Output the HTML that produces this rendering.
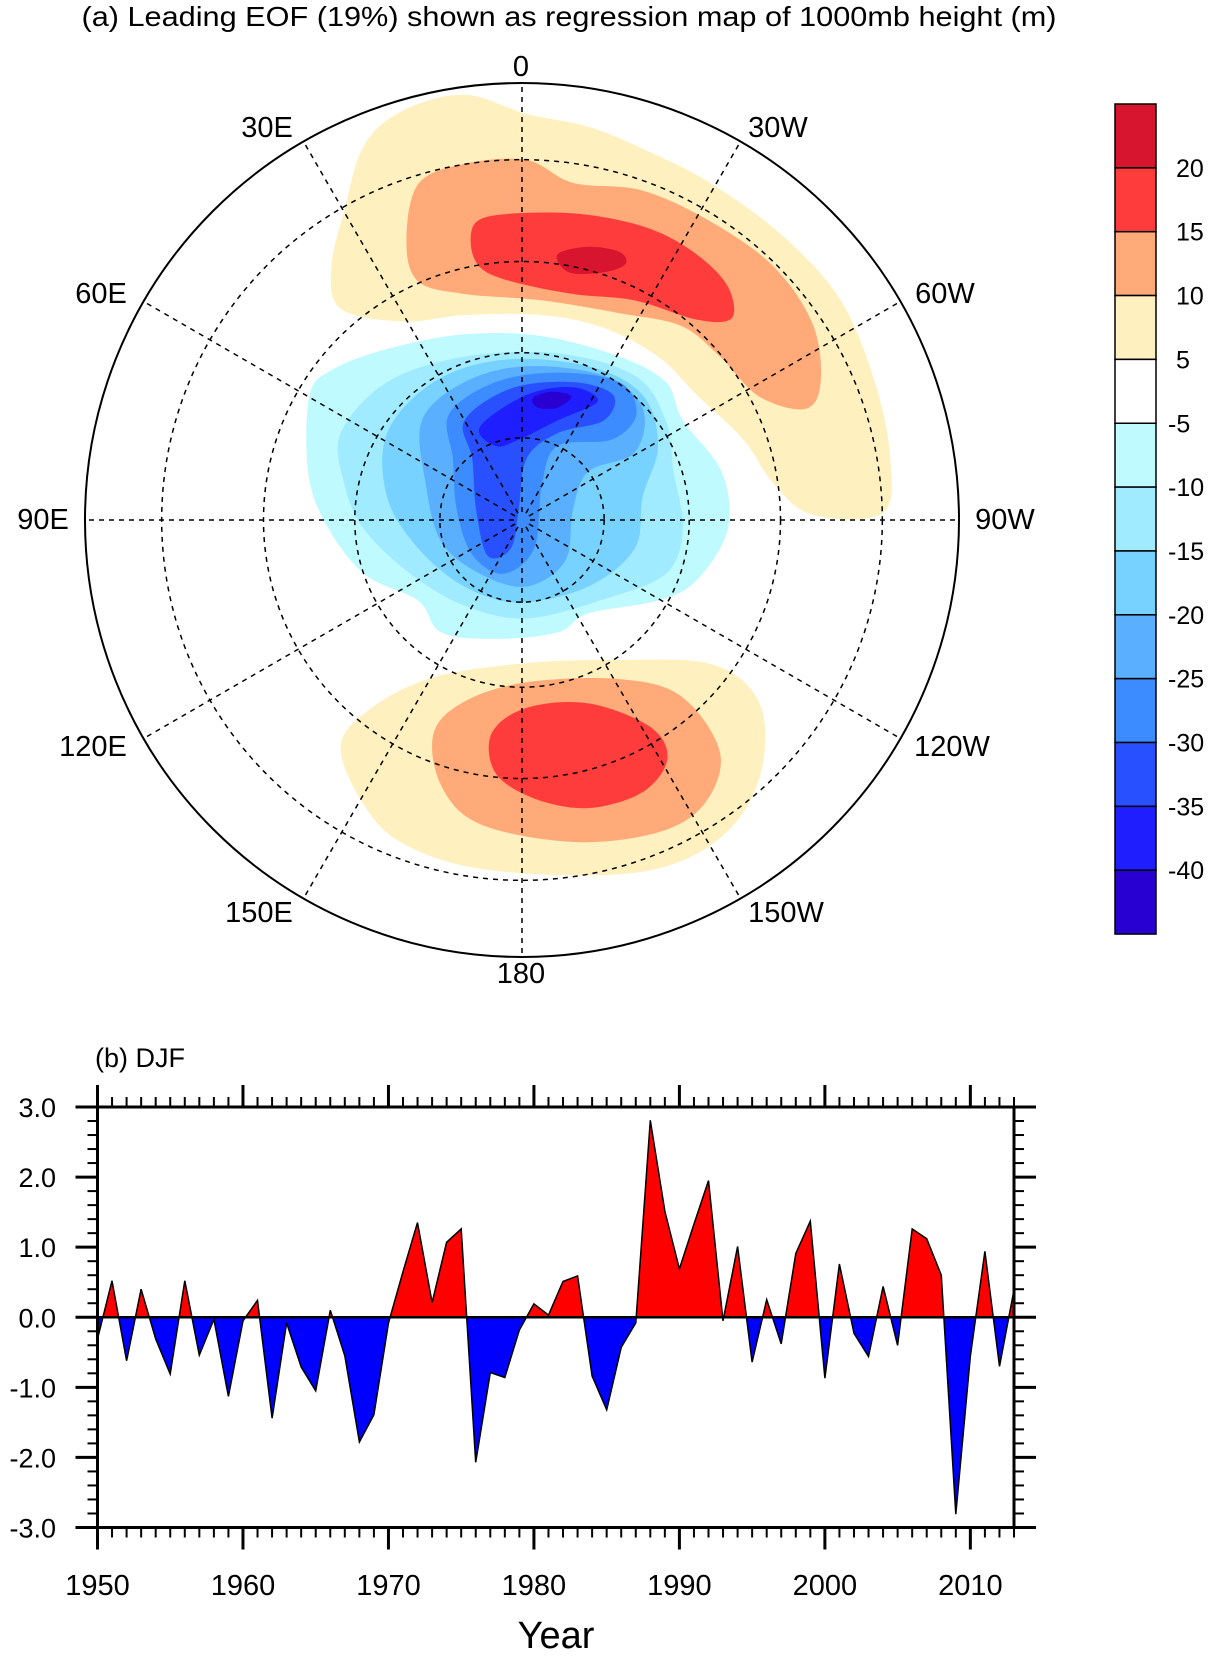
<!DOCTYPE html>
<html><head><meta charset="utf-8"><style>
html,body{margin:0;padding:0;background:#fff;}
svg{display:block;font-family:"Liberation Sans",sans-serif;}
</style></head><body>
<svg id="fig" width="1214" height="1659" viewBox="0 0 1214 1659" xmlns="http://www.w3.org/2000/svg">
<defs>
<clipPath id="circ"><circle cx="522" cy="520" r="437"/></clipPath>
</defs>
<text x="569" y="26" font-size="28" text-anchor="middle" textLength="975" lengthAdjust="spacingAndGlyphs">(a) Leading EOF (19%) shown as regression map of 1000mb height (m)</text>
<g id="map">
<g clip-path="url(#circ)"><g id="blobs" transform="matrix(0.7742 0 0 0.6386 0 -1)"></g></g>
<g id="grid" fill="none" stroke="#000" stroke-width="1.5" stroke-dasharray="5,5"></g>
<circle cx="522" cy="520" r="437" fill="none" stroke="#000" stroke-width="2"/>
<g id="lonlabels" font-size="29" text-anchor="middle"></g>
</g>
<g id="cbar"></g>
<g id="ts">
<text x="95" y="1067" font-size="27">(b) DJF</text>
<text x="556" y="1648" font-size="38" text-anchor="middle">Year</text>
</g>
</svg>
<script>
const years = [];
for (let y = 1950; y <= 2013; y++) years.push(y);
const pcValues = [-0.31,0.52,-0.62,0.40,-0.31,-0.81,0.52,-0.54,-0.03,-1.13,
-0.05,0.24,-1.44,-0.08,-0.71,-1.05,0.10,-0.55,-1.78,-1.39,
-0.08,0.65,1.35,0.21,1.07,1.26,-2.07,-0.79,-0.86,-0.18,
0.19,0.03,0.51,0.59,-0.84,-1.32,-0.43,-0.08,2.81,1.51,
0.69,1.33,1.95,-0.05,1.01,-0.64,0.25,-0.38,0.91,1.37,
-0.87,0.76,-0.23,-0.56,0.44,-0.40,1.26,1.12,0.60,-2.81,
-0.55,0.94,-0.70,0.39];
const yTicks = [-3,-2,-1,0,1,2,3];
const yTickLabels = ["-3.0","-2.0","-1.0","0.0","1.0","2.0","3.0"];
const xTicks = [1950,1960,1970,1980,1990,2000,2010];
const cbarLabels = ["20","15","10","5","-5","-10","-15","-20","-25","-30","-35","-40"];
const cbarColors = ["#D7152F","#FF3C3C","#FFAA78","#FFF0C0","#FFFFFF","#BEFAFF","#A0EBFF","#78D2FF","#5AAFFF","#3C8CFF","#2850FF","#1E1EFF","#2800D2"];

const NS = "http://www.w3.org/2000/svg";
function mk(tag, attrs, parent) {
  const e = document.createElementNS(NS, tag);
  for (const k in attrs) e.setAttribute(k, attrs[k]);
  parent.appendChild(e);
  return e;
}
function smooth(pts) {
  const n = pts.length; let d = "M" + pts[0][0] + "," + pts[0][1];
  for (let i = 0; i < n; i++) {
    const p0 = pts[(i - 1 + n) % n], p1 = pts[i], p2 = pts[(i + 1) % n], p3 = pts[(i + 2) % n];
    const c1 = [p1[0] + (p2[0] - p0[0]) / 6, p1[1] + (p2[1] - p0[1]) / 6];
    const c2 = [p2[0] - (p3[0] - p1[0]) / 6, p2[1] - (p3[1] - p1[1]) / 6];
    d += "C" + c1.join(",") + " " + c2.join(",") + " " + p2.join(",");
  }
  return d + "Z";
}
const blobs = document.getElementById("blobs");
const shapes = [
 ["pos-top-5", "#FFF0C0", [[470,230],[520,175],[600,150],[680,180],[760,200],[840,240],[920,290],[1010,370],[1085,470],[1130,600],[1150,720],[1140,805],[1050,808],[1000,760],[960,690],[900,620],[850,560],[780,515],[700,495],[600,495],[520,505],[440,485],[428,420],[445,330]]],
 ["pos-top-10", "#FFAA78", [[540,290],[600,258],[680,252],[740,288],[830,300],[920,350],[1000,420],[1050,510],[1060,600],[1040,642],[980,622],[930,560],[880,512],[800,492],[700,472],[600,462],[540,442],[525,380]]],
 ["pos-top-15", "#FF3C3C", [[620,345],[680,335],[760,338],[840,360],[900,400],[940,450],[945,500],[900,502],[820,472],[740,462],[660,442],[620,420],[608,380]]],
 ["pos-top-20", "#D7152F", [[720,400],[760,388],[800,396],[808,415],[780,428],[735,428]]],
 ["pos-bot-5", "#FFF0C0", [[440,1170],[480,1110],[560,1062],[680,1040],[800,1035],[920,1042],[980,1100],[985,1200],[950,1290],[880,1350],[780,1372],[620,1362],[520,1322],[470,1262]]],
 ["pos-bot-10", "#FFAA78", [[560,1150],[600,1100],[680,1070],[800,1065],[880,1092],[930,1180],[910,1260],[850,1305],[740,1320],[620,1292],[570,1232]]],
 ["pos-bot-15", "#FF3C3C", [[635,1150],[680,1110],[760,1103],[840,1140],[862,1190],[830,1242],[760,1267],[690,1252],[640,1212]]],
 ["neg-5", "#BEFAFF", [[400,620],[430,580],[500,548],[600,525],[700,528],[800,560],[860,600],[882,660],[932,740],[940,830],[900,910],[850,942],[760,962],[720,992],[640,1002],[570,992],[540,942],[470,900],[420,820],[398,740]]],
 ["neg-10", "#A0EBFF", [[440,680],[500,600],[600,560],[720,555],[820,590],[860,660],[870,740],[882,830],[860,900],[780,940],[680,970],[600,950],[530,900],[470,830],[445,760]]],
 ["neg-15", "#78D2FF", [[500,680],[560,600],[650,565],[760,575],[830,620],[850,700],[830,780],[820,860],[760,920],[670,945],[600,920],[540,860],[500,780]]],
 ["neg-20", "#5AAFFF", [[545,660],[600,600],[680,575],[780,590],[830,640],[820,710],[760,740],[740,800],[730,880],[680,920],[620,900],[570,850],[550,760]]],
 ["neg-25", "#3C8CFF", [[580,650],[640,600],[720,585],[800,600],[822,650],[790,690],[720,700],[700,760],[690,860],[650,900],[610,870],[590,800],[585,720]]],
 ["neg-30", "#2850FF", [[600,660],[660,610],[740,600],[792,620],[780,660],[720,680],[680,720],[670,800],[660,860],[630,872],[615,800],[610,720]]],
 ["neg-35", "#1E1EFF", [[620,670],[680,620],[740,608],[772,630],[720,660],[670,690],[640,700]]],
 ["neg-40", "#2800D2", [[688,625],[712,615],[738,622],[720,640],[695,640]]]
];
shapes.forEach(s => {
  const p = mk("path", {d: smooth(s[2]), fill: s[1]}, blobs);
  
  
});
const cx = 522, cy = 520, R = 437;
const grid = document.getElementById("grid");
const scaleR = R / Math.tan((90 - 20) / 2 * Math.PI / 180);
[30, 45, 60, 75].forEach(lat => {
  const r = scaleR * Math.tan((90 - lat) / 2 * Math.PI / 180);
  const c = mk("circle", {cx: cx, cy: cy, r: r}, grid);
  
  
});
for (let L = 0; L < 360; L += 30) {
  const a = L * Math.PI / 180, r0 = 8;
  const l = mk("line", {x1: cx - r0 * Math.sin(a), y1: cy - r0 * Math.cos(a), x2: cx - R * Math.sin(a), y2: cy - R * Math.cos(a)}, grid);
  
  
}
const lonLabels = [["0",521,66],["30E",267,127],["30W",778,127],["60E",101,293],["60W",945,293],["90E",43,519],["90W",1005,519],["120E",93,746],["120W",952,746],["150E",259,912],["150W",786,912],["180",521,973]];
const ll = document.getElementById("lonlabels");
lonLabels.forEach(d => {
  const t = mk("text", {x: d[1], y: d[2] + 10}, ll);
  t.textContent = d[0];
  
  
});
const cb = document.getElementById("cbar");
const cbTop = 104, cbH = 63.85, cbX = 1115, cbW = 41;
cbarColors.forEach((c, i) => {
  const r = mk("rect", {x: cbX, y: cbTop + i * cbH, width: cbW, height: cbH, fill: c, stroke: "#000", "stroke-width": 1.5}, cb);
  
  
});
cbarLabels.forEach((s, i) => {
  const t = mk("text", {x: s.startsWith("-") ? 1168 : 1176, y: cbTop + (i + 1) * cbH + 9, "font-size": 25, "text-anchor": "start"}, cb);
  t.textContent = s;
  
  
});
const X0 = 97.5, X1 = 1014, Y0 = 1527.5, Y1 = 1107;
const xs = yr => X0 + (yr - 1950) / (2013 - 1950) * (X1 - X0);
const ys = v => Y0 + (v + 3) / 6 * (Y1 - Y0);
const ts = document.getElementById("ts");
const defs = document.querySelector("defs");
const cpA = mk("clipPath", {id: "above"}, defs);
mk("rect", {x: X0, y: Y1, width: X1 - X0, height: ys(0) - Y1}, cpA);
const cpB = mk("clipPath", {id: "below"}, defs);
mk("rect", {x: X0, y: ys(0), width: X1 - X0, height: Y0 - ys(0)}, cpB);
let pts = years.map((yr, i) => xs(yr).toFixed(1) + "," + ys(pcValues[i]).toFixed(1));
const poly = "M" + xs(years[0]) + "," + ys(0) + " L" + pts.join(" L") + " L" + xs(years[years.length - 1]) + "," + ys(0) + "Z";
const pa = mk("path", {d: poly, fill: "#FF0000", "clip-path": "url(#above)"}, ts);


const pb = mk("path", {d: poly, fill: "#0000FF", "clip-path": "url(#below)"}, ts);


const line = mk("polyline", {points: pts.join(" "), fill: "none", stroke: "#000", "stroke-width": 1.5}, ts);


const zl = mk("line", {x1: X0, x2: X1, y1: ys(0), y2: ys(0), stroke: "#000", "stroke-width": 2.5}, ts);


const frame = mk("rect", {x: X0, y: Y1, width: X1 - X0, height: Y0 - Y1, fill: "none", stroke: "#000", "stroke-width": 3}, ts);


const tk = mk("g", {stroke: "#000"}, ts);


for (let yr = 1950; yr <= 2013; yr++) {
  const major = yr % 10 === 0, L = major ? 22 : 10, w = major ? 3 : 2;
  mk("line", {x1: xs(yr), x2: xs(yr), y1: Y0, y2: Y0 + L, "stroke-width": w}, tk);
  mk("line", {x1: xs(yr), x2: xs(yr), y1: Y1, y2: Y1 - L, "stroke-width": w}, tk);
}
for (let k = -30; k <= 30; k += 2) {
  const v = k / 10, major = k % 10 === 0, L = major ? 22 : 10, w = major ? 3 : 2;
  mk("line", {x1: X0, x2: X0 - L, y1: ys(v), y2: ys(v), "stroke-width": w}, tk);
  mk("line", {x1: X1, x2: X1 + L, y1: ys(v), y2: ys(v), "stroke-width": w}, tk);
}
xTicks.forEach(yr => {
  const t = mk("text", {x: xs(yr), y: 1595, "font-size": 29, "text-anchor": "middle"}, ts);
  t.textContent = String(yr);
  
  
});
yTicks.forEach((v, i) => {
  const t = mk("text", {x: 56, y: ys(v) + 10, "font-size": 27, "text-anchor": "end"}, ts);
  t.textContent = yTickLabels[i];
  
  
});
</script>
</body></html>
